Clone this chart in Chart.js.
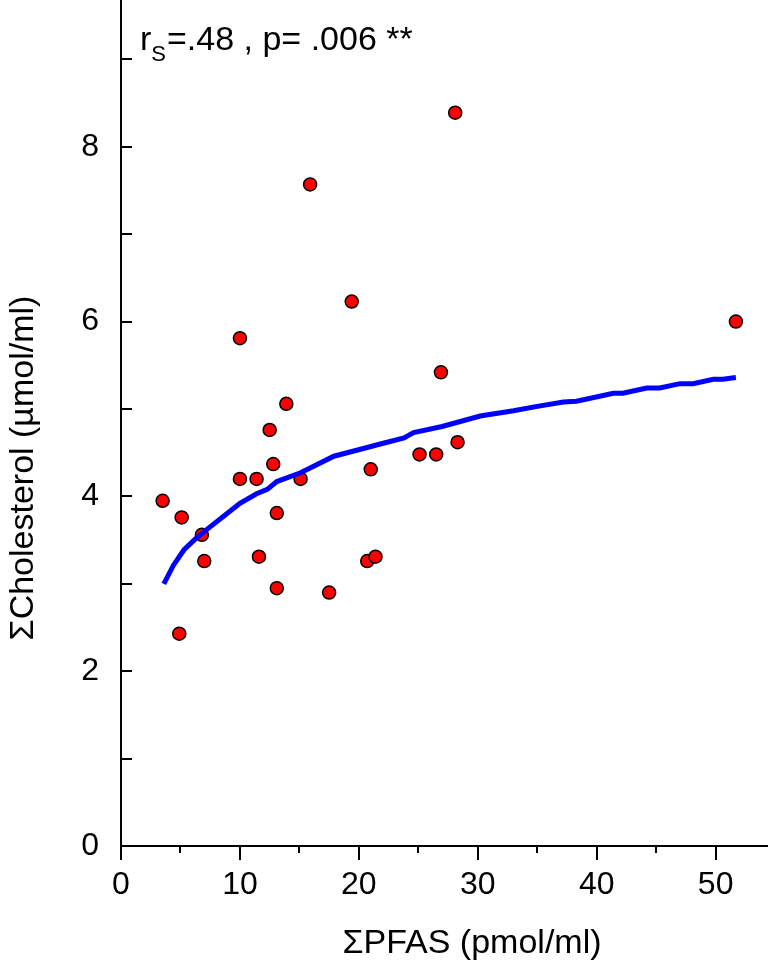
<!DOCTYPE html>
<html>
<head>
<meta charset="utf-8">
<script src="https://cdn.jsdelivr.net/npm/chart.js@4.4.1/dist/chart.umd.min.js"></script>
<style>
  body { margin: 0; background: #fff; }
  canvas { display: block; }
</style>
</head>
<body>
<canvas id="chart" width="768" height="966"></canvas>
<script>
// measured points
const pfas = [3.5, 5.1, 4.9, 6.8, 7.0, 10.0, 10.0, 11.4, 11.6, 12.5, 12.8, 13.1, 13.1, 13.9, 15.1, 15.9, 17.5, 19.4, 20.7, 21.0, 21.4, 25.1, 26.5, 26.9, 28.1, 28.3, 51.7];
const chol = [3.95, 3.76, 2.43, 3.56, 3.26, 5.81, 4.20, 4.20, 3.31, 4.76, 4.37, 3.81, 2.95, 5.06, 4.20, 7.57, 2.90, 6.23, 3.26, 4.31, 3.31, 4.48, 4.48, 5.42, 8.39, 4.62, 6.00];

// fitted curve
const fitX = [3.6, 4.4, 5.3, 6.3, 7.2, 8.6, 10.0, 11.4, 12.3, 13.1, 15.1, 17.9, 20.7, 21.8, 23.8, 24.6, 27.0, 30.2, 33.0, 35.0, 37.2, 38.3, 41.4, 42.2, 44.2, 45.3, 47.0, 48.1, 49.8, 50.6, 51.7];
const fitY = [3.00, 3.21, 3.39, 3.52, 3.62, 3.77, 3.92, 4.03, 4.08, 4.17, 4.27, 4.46, 4.56, 4.60, 4.67, 4.73, 4.80, 4.92, 4.98, 5.03, 5.08, 5.09, 5.18, 5.18, 5.24, 5.24, 5.29, 5.29, 5.34, 5.34, 5.36];

const xTicks = [0, 10, 20, 30, 40, 50];
const xMinor = [5, 15, 25, 35, 45];
const yTicks = [0, 2, 4, 6, 8];
const yMinor = [1, 3, 5, 7, 9];

const xTitle = 'ΣPFAS (pmol/ml)';
const yTitle = 'ΣCholesterol (µmol/ml)';

const FONT = "'Liberation Sans', Arial, sans-serif";

// ticks, axis titles + stats text
const extras = {
  id: 'extras',
  afterDraw(chart) {
    const ctx = chart.ctx;
    const xs = chart.scales.x, ys = chart.scales.y;
    const left = chart.chartArea.left, bottom = chart.chartArea.bottom;
    ctx.save();
    ctx.strokeStyle = '#000';
    ctx.lineWidth = 2;
    ctx.beginPath();
    xTicks.concat(xMinor).forEach(v => {
      const px = Math.round(xs.getPixelForValue(v));
      const len = xTicks.includes(v) ? 14 : 7;
      ctx.moveTo(px, bottom);
      ctx.lineTo(px, bottom + len);
    });
    yTicks.concat(yMinor).forEach(v => {
      const py = Math.round(ys.getPixelForValue(v));
      ctx.moveTo(left, py);
      ctx.lineTo(left + 11, py);
    });
    ctx.stroke();

    ctx.fillStyle = '#000';
    ctx.font = '34px ' + FONT;
    ctx.textAlign = 'center';
    ctx.textBaseline = 'middle';
    ctx.fillText(xTitle, 472, 944);
    ctx.save();
    ctx.translate(24, 468);
    ctx.rotate(-Math.PI / 2);
    ctx.fillText(yTitle, 0, 0);
    ctx.restore();

    // r_S = .48 , p= .006 **
    ctx.textAlign = 'left';
    ctx.textBaseline = 'alphabetic';
    let x = 140;
    const y = 50;
    ctx.font = '34px ' + FONT;
    ctx.fillText('r', x, y);
    x += ctx.measureText('r').width;
    ctx.font = '22px ' + FONT;
    ctx.fillText('S', x, y + 11);
    x += ctx.measureText('S').width + 1;
    ctx.font = '34px ' + FONT;
    ctx.fillText('=.48 , p= .006 **', x, y);
    ctx.restore();
  }
};

new Chart(document.getElementById('chart'), {
  type: 'scatter',
  data: {
    datasets: [{
      type: 'line',
      data: fitX.map((v, i) => ({ x: v, y: fitY[i] })),
      borderColor: '#0000ff',
      borderWidth: 5,
      pointRadius: 0,
      tension: 0,
      fill: false,
      order: 0
    }, {
      data: pfas.map((v, i) => ({ x: v, y: chol[i] })),
      backgroundColor: '#ff0000',
      borderColor: '#000',
      borderWidth: 1.5,
      pointRadius: 6.5,
      order: 1
    }]
  },
  options: {
    responsive: false,
    animation: false,
    layout: { padding: 0, autoPadding: false },
    plugins: { legend: { display: false }, tooltip: { enabled: false } },
    scales: {
      x: {
        type: 'linear',
        min: 0,
        max: 54.4,
        afterBuildTicks: s => { s.ticks = xTicks.map(v => ({ value: v })); },
        afterFit: s => {
          s.height = 120;
          s.paddingLeft = s.paddingRight = 0;
        },
        grid: { display: false, drawTicks: false },
        border: { display: true, color: '#000', width: 2 },
        ticks: { color: '#000', font: { family: FONT, size: 32 }, padding: 20, maxRotation: 0 }
      },
      y: {
        type: 'linear',
        min: 0,
        max: 9.68,
        afterBuildTicks: s => { s.ticks = yTicks.map(v => ({ value: v })); },
        afterFit: s => {
          s.width = 121;
          s.paddingTop = s.paddingBottom = 0;
        },
        grid: { display: false, drawTicks: false },
        border: { display: true, color: '#000', width: 2 },
        ticks: { color: '#000', font: { family: FONT, size: 32 }, padding: 22 }
      }
    }
  },
  plugins: [extras]
});
</script>
</body>
</html>
